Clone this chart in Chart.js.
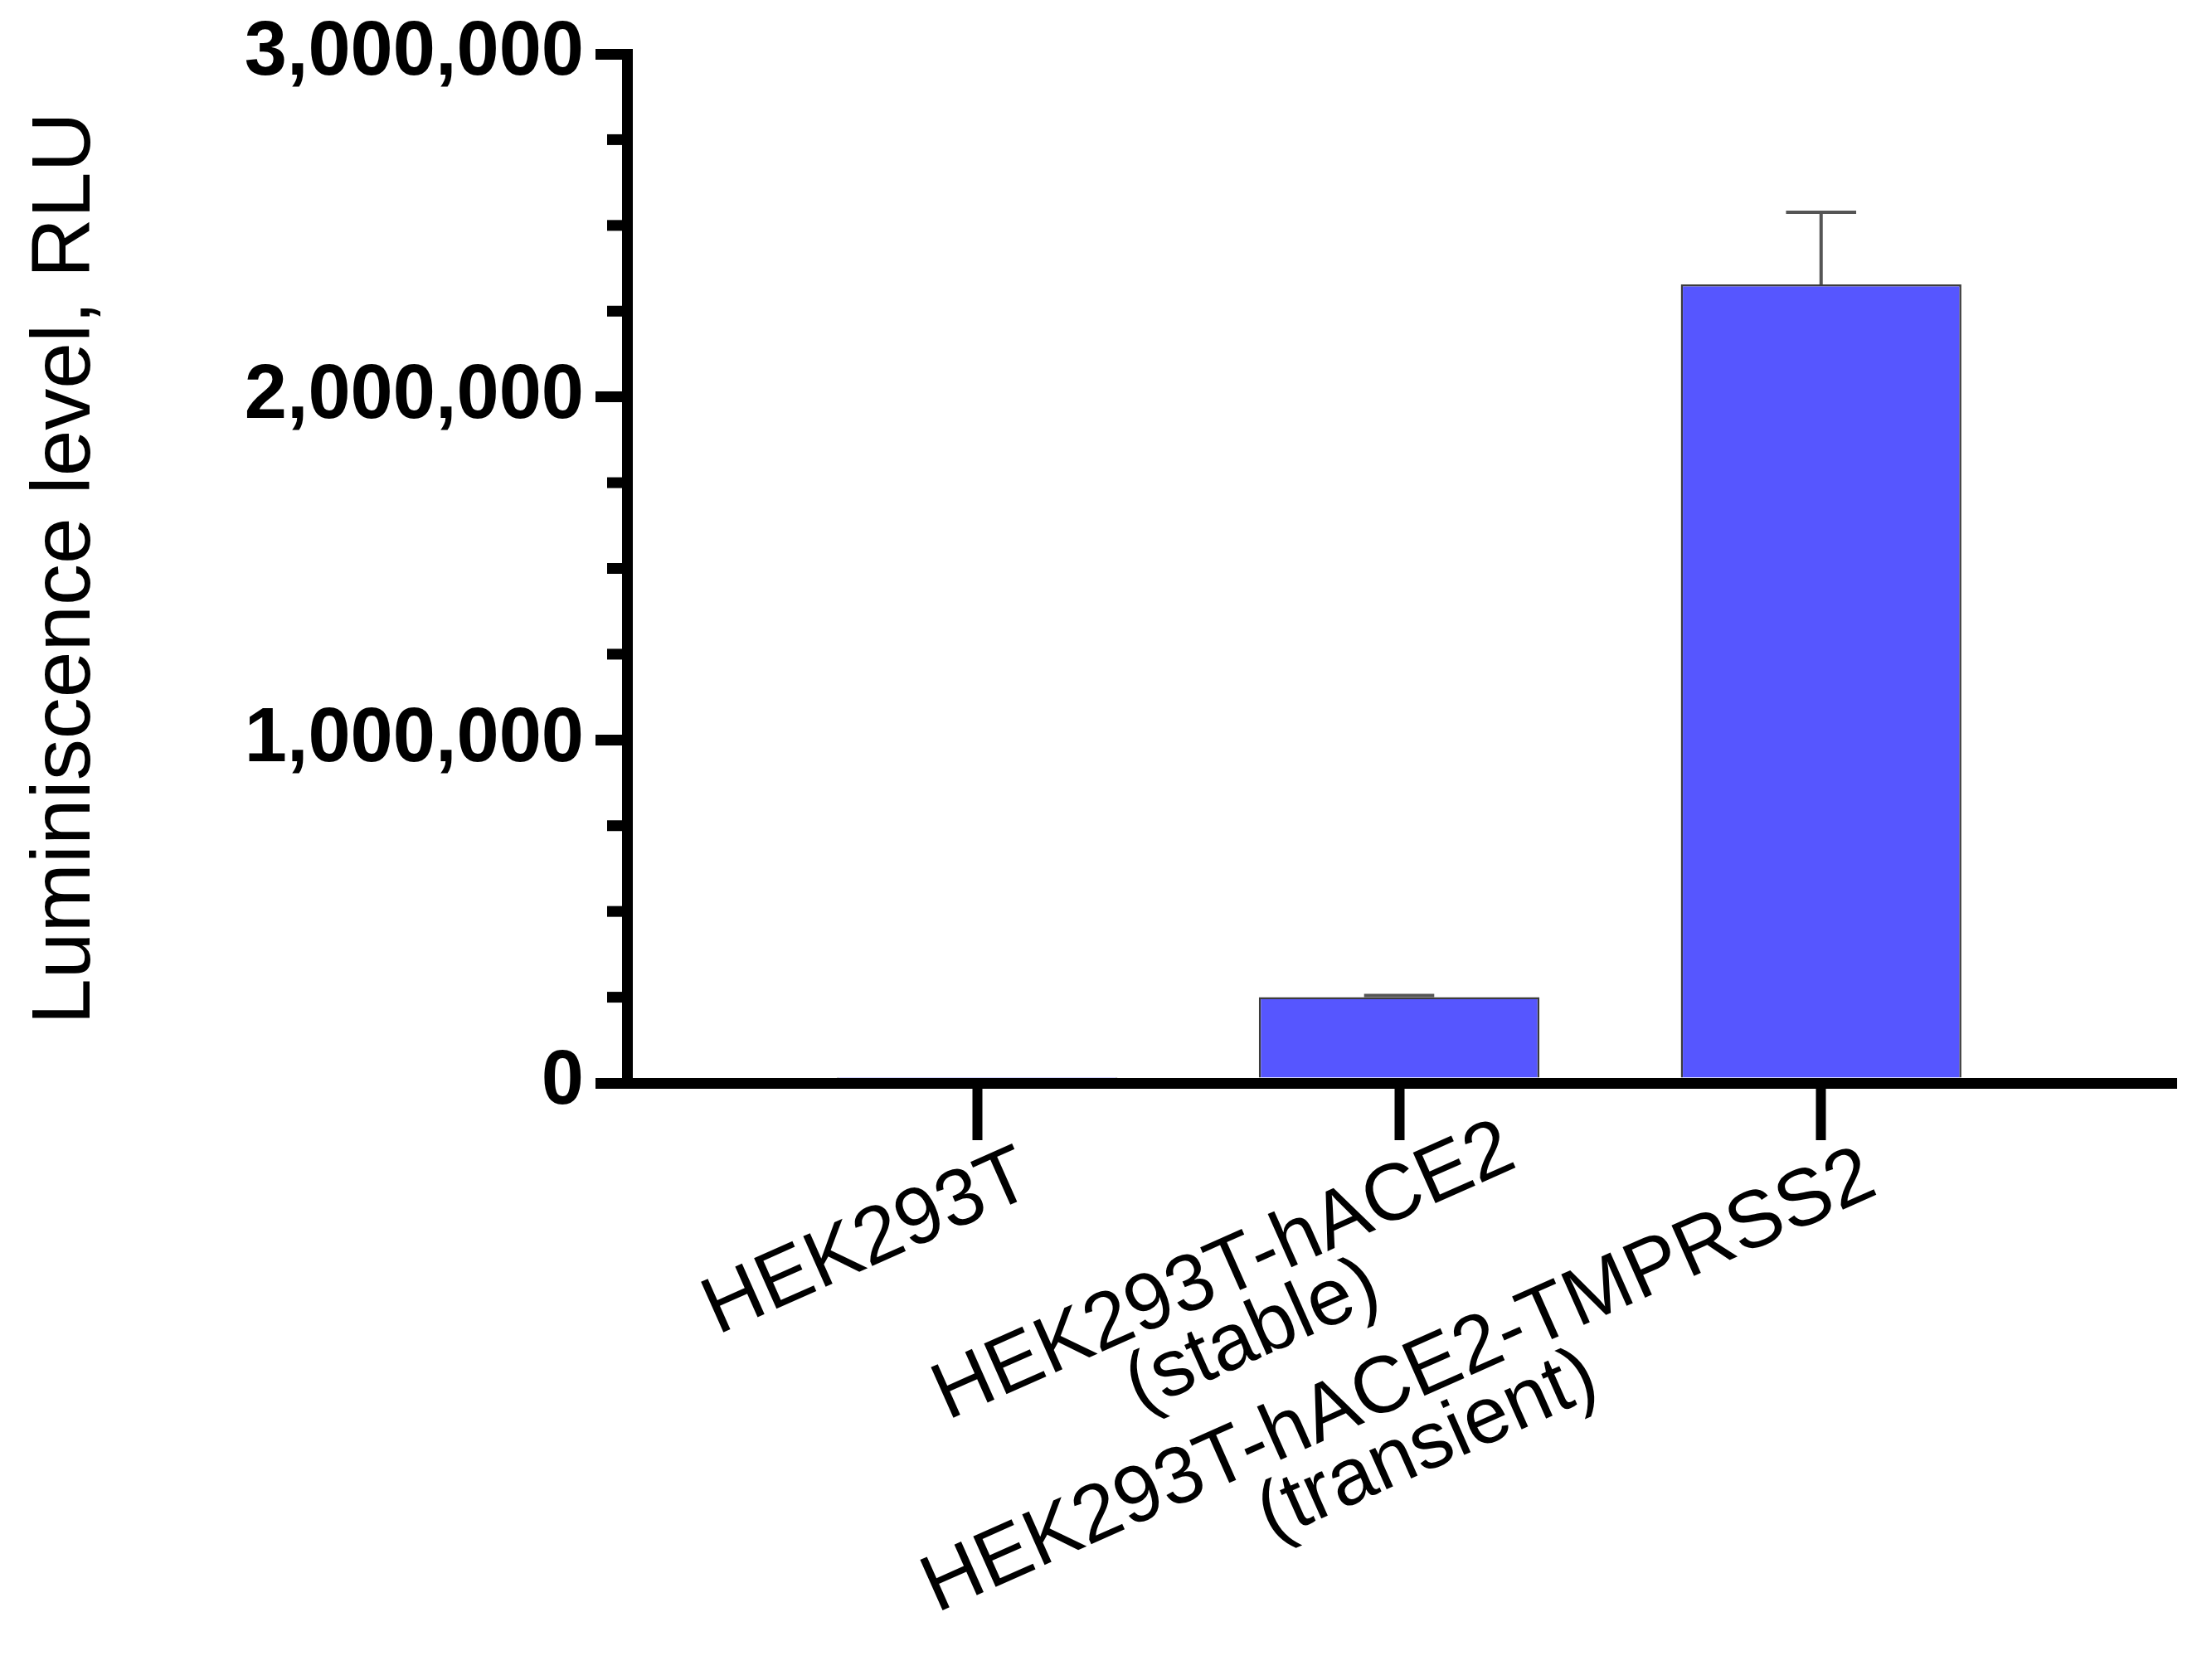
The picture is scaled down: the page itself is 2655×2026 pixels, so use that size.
<!DOCTYPE html>
<html>
<head>
<meta charset="utf-8">
<script src="https://cdn.jsdelivr.net/npm/chart.js@4.4.1/dist/chart.umd.min.js"></script>
<style>
  html, body { margin: 0; padding: 0; background: #fff; }
  #wrap { width: 2655px; height: 2026px; position: relative; }
</style>
</head>
<body>
<div id="wrap"><canvas id="chart"></canvas></div>
<script>
/* ---- data ---- */
// cell lines, one entry per line of the tick label
var categories = [
  ["HEK293T"],
  ["HEK293T-hACE2", "(stable)"],
  ["HEK293T-hACE2-TMPRSS2", "(transient)"]
];
// mean luminescence, RLU
var luminescence = [1500, 250000, 2328000];
// upper error bar (SEM), RLU
var errorUp = [0, 5000, 210000];
// y axis range and ticks
var yMin = 0, yMax = 3000000, yMajorStep = 1000000, yMinorStep = 250000;
var yTitle = "Luminiscence level, RLU";

/* ---- style ---- */
var FONT = '"Liberation Sans", Arial, Helvetica, sans-serif';
var INK = "#000";
var AXIS_W = 13;
var X_FONT_SIZE = 97;
var X_LINE_H = 0.87;
var LABEL_TRAIL = [3, 0, 3]; // Prism nudges the middle label further along its slant

// centre the 2nd line under the 1st (tick labels are right aligned when rotated)
function padLabels() {
  var ctx = document.createElement("canvas").getContext("2d");
  ctx.font = X_FONT_SIZE + "px " + FONT;
  var sp = ctx.measureText(" ").width;
  return categories.map(function (lines, i) {
    var w1 = ctx.measureText(lines[0]).width;
    var out = [lines[0] + " ".repeat(LABEL_TRAIL[i])];
    lines.slice(1).forEach(function (l) {
      var n = Math.max(0, Math.round((w1 - ctx.measureText(l).width) / 2 / sp)) + LABEL_TRAIL[i];
      out.push(l + " ".repeat(n));
    });
    return out;
  });
}
var tickLabels = padLabels();

/* minor ticks on the y axis (shorter than the majors) */
var minorTicks = {
  id: "minorTicks",
  afterDraw: function (chart) {
    var s = chart.scales.y, ctx = chart.ctx;
    ctx.save();
    ctx.strokeStyle = INK;
    ctx.lineWidth = AXIS_W;
    for (var v = yMin; v <= yMax; v += yMinorStep) {
      if (v % yMajorStep === 0) continue;
      var y = s.getPixelForValue(v);
      ctx.beginPath();
      ctx.moveTo(s.right - 24, y);
      ctx.lineTo(s.right, y);
      ctx.stroke();
    }
    ctx.restore();
  }
};

/* upper-only error bars with a cap a quarter of the bar wide */
var errorBars = {
  id: "errorBars",
  afterDatasetsDraw: function (chart) {
    var meta = chart.getDatasetMeta(0), ys = chart.scales.y, ctx = chart.ctx;
    ctx.save();
    ctx.strokeStyle = "#555";
    ctx.lineWidth = 4;
    meta.data.forEach(function (bar, i) {
      if (!errorUp[i]) return;
      var top = ys.getPixelForValue(luminescence[i] + errorUp[i]);
      var half = bar.width * 0.125;
      ctx.beginPath();
      ctx.moveTo(bar.x, bar.y);
      ctx.lineTo(bar.x, top);
      ctx.moveTo(bar.x - half, top);
      ctx.lineTo(bar.x + half, top);
      ctx.stroke();
    });
    ctx.restore();
  }
};

new Chart(document.getElementById("chart"), {
  type: "bar",
  data: {
    datasets: [{
      data: categories.map(function (c, i) { return { x: i + 1, y: luminescence[i] }; }),
      backgroundColor: "#5656ff",
      borderColor: "#3c3c3c",
      borderWidth: 2.5,
      categoryPercentage: 1,
      barPercentage: 0.665
    }]
  },
  options: {
    responsive: true,
    maintainAspectRatio: false,
    animation: false,
    devicePixelRatio: 1,
    layout: { padding: { top: 65, right: 37, bottom: 0, left: 0 } },
    plugins: { legend: { display: false }, tooltip: { enabled: false } },
    scales: {
      x: {
        type: "linear",
        min: 0.17,
        max: 3.83,
        offset: false,
        afterBuildTicks: function (s) {
          s.ticks = categories.map(function (c, i) { return { value: i + 1 }; });
        },
        afterFit: function (s) { s.height = 720; s.paddingLeft = 0; s.paddingRight = 0; },
        grid: { display: true, offset: false, drawOnChartArea: false, drawTicks: true, tickLength: 69, lineWidth: AXIS_W, tickWidth: 12, tickColor: INK, color: INK },
        border: { display: true, color: INK, width: AXIS_W, z: 1 },
        ticks: {
          autoSkip: false,
          minRotation: 24,
          maxRotation: 24,
          labelOffset: 134,
          padding: -32,
          color: INK,
          font: { family: FONT, size: X_FONT_SIZE, lineHeight: X_LINE_H },
          callback: function (v) { return tickLabels[Math.round(v) - 1]; }
        }
      },
      y: {
        min: yMin,
        max: yMax,
        afterFit: function (s) { s.width = 756; s.paddingTop = 0; s.paddingBottom = 0; },
        grid: { display: true, drawOnChartArea: false, drawTicks: true, tickLength: 38, lineWidth: AXIS_W, tickWidth: AXIS_W, tickColor: INK, color: INK },
        border: { display: true, color: INK, width: AXIS_W, z: 1 },
        ticks: {
          stepSize: yMajorStep,
          padding: 14,
          color: INK,
          font: { family: FONT, size: 92, weight: "bold" },
          callback: function (v) { return Number(v).toLocaleString("en-US"); }
        },
        title: {
          display: true,
          text: yTitle,
          color: INK,
          font: { family: FONT, size: 100, weight: "normal" },
          padding: { top: 20, bottom: 0 }
        }
      }
    }
  },
  plugins: [minorTicks, errorBars]
});
</script>
</body>
</html>
